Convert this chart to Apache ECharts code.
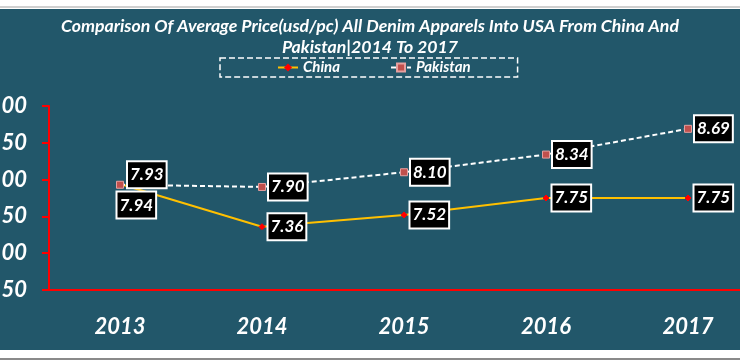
<!DOCTYPE html>
<html>
<head>
<meta charset="utf-8">
<script src="https://cdn.jsdelivr.net/npm/echarts@6/dist/echarts.min.js"></script>
<style>
html,body{margin:0;padding:0;background:#fff;}
#chart{width:740px;height:363px;}
</style>
</head>
<body>
<div id="chart"></div>
<script>
const years = ['2013', '2014', '2015', '2016', '2017'];
const chinaValues = [7.94, 7.36, 7.52, 7.75, 7.75];
const pakistanValues = [7.93, 7.90, 8.10, 8.34, 8.69];
const titleText = 'Comparison Of Average Price(usd/pc) All Denim Apparels Into USA From China And\nPakistan|2014 To 2017';

const FONT = 'Lato';
const labelBox = {
  show: true,
  position: 'right',
  distance: 3,
  color: '#fff',
  fontFamily: FONT,
  fontWeight: 'bold',
  fontStyle: 'italic',
  fontSize: 17,
  backgroundColor: '#000',
  borderColor: '#fff',
  borderWidth: 2,
  padding: [5, 2, 3, 2],
  formatter: p => p.value.toFixed(2)
};

const chinaData = chinaValues.map((v, i) => i === 0
  ? { value: v, label: { offset: [-9, 21] } }
  : { value: v });
const pakData = pakistanValues.map((v, i) => i === 0
  ? { value: v, label: { offset: [1, -10] } }
  : { value: v });

const chart = echarts.init(document.getElementById('chart'));
chart.setOption({
  backgroundColor: '#ffffff',
  animation: false,
  graphic: [
    { type: 'rect', z: -10, shape: { x: 0, y: 6, width: 740, height: 2 }, style: { fill: '#d0d0d0' } },
    { type: 'rect', z: -10, shape: { x: 0, y: 9, width: 740, height: 341 }, style: { fill: '#22576a' } },
    { type: 'rect', z: -10, shape: { x: 0, y: 358, width: 740, height: 2 }, style: { fill: '#8a8a8a' } }
  ],
  title: {
    text: titleText,
    left: 'center',
    top: 11,
    textStyle: {
      color: '#fff',
      fontFamily: FONT,
      fontWeight: 'bold',
      fontStyle: 'italic',
      fontSize: 17.7,
      lineHeight: 21
    }
  },
  legend: {
    left: 220,
    top: 58,
    padding: [2, 47, 2, 57],
    itemGap: 50,
    itemWidth: 20,
    itemHeight: 10,
    borderColor: '#fff',
    borderWidth: 1.5,
    borderType: 'dashed',
    textStyle: {
      color: '#fff',
      fontFamily: FONT,
      fontWeight: 'bold',
      fontStyle: 'italic',
      fontSize: 15
    },
    data: ['China', 'Pakistan']
  },
  grid: { left: 49, right: -19, top: 106, bottom: 73, containLabel: false, outerBoundsMode: 'none' },
  xAxis: {
    type: 'category',
    data: years,
    boundaryGap: true,
    axisLine: { lineStyle: { color: '#ff0000', width: 2 } },
    axisTick: { show: false },
    axisLabel: {
      margin: 26,
      color: '#fff',
      fontFamily: FONT,
      fontWeight: 'bold',
      fontStyle: 'italic',
      fontSize: 22
    }
  },
  yAxis: {
    type: 'value',
    min: 6.5,
    max: 9,
    interval: 0.5,
    splitLine: { show: false },
    axisLine: { show: true, lineStyle: { color: '#ff0000', width: 2 } },
    axisTick: { show: true, length: 7, lineStyle: { color: '#ff0000', width: 2 } },
    axisLabel: {
      margin: 22,
      color: '#fff',
      fontFamily: FONT,
      fontWeight: 'bold',
      fontStyle: 'italic',
      fontSize: 22,
      formatter: v => v.toFixed(2)
    }
  },
  series: [
    {
      name: 'China',
      type: 'line',
      data: chinaData,
      symbol: 'diamond',
      symbolSize: 6,
      lineStyle: { color: '#ffc000', width: 2 },
      itemStyle: { color: '#ff0000', borderColor: '#ff0000' },
      label: labelBox,
      z: 3
    },
    {
      name: 'Pakistan',
      type: 'line',
      data: pakData,
      symbol: 'rect',
      symbolSize: 7,
      lineStyle: { color: '#ffffff', width: 2, type: [5, 3] },
      itemStyle: { color: '#c0504d', borderColor: '#e6a0a0', borderWidth: 1 },
      label: labelBox,
      z: 4
    }
  ]
});
</script>
</body>
</html>
